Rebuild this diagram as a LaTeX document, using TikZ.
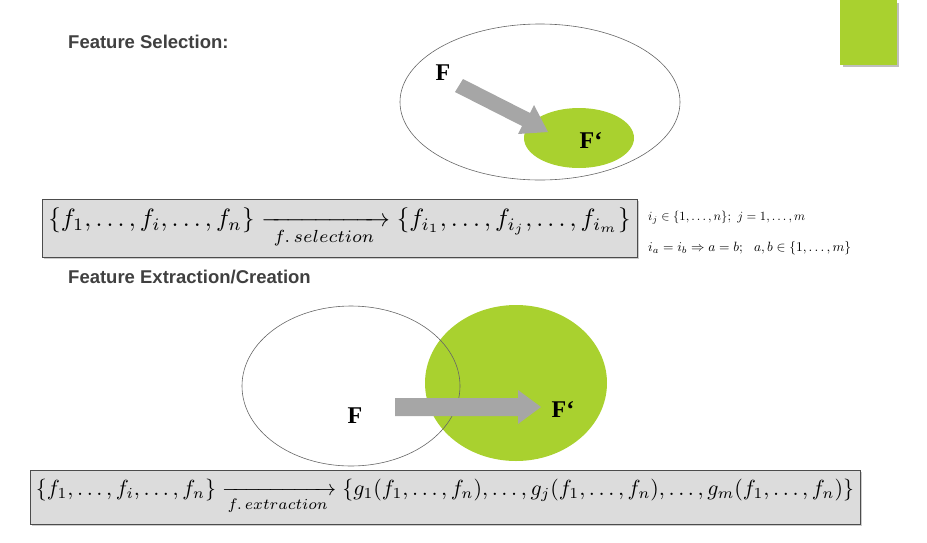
\documentclass[tikz,border=0pt]{standalone}
\usepackage{amsmath}
\usepackage{graphicx}
\usepackage{fontspec}
\newfontfamily\hdfont{Liberation Sans}
\newfontfamily\serfont{Liberation Serif}
\definecolor{lime}{HTML}{A9D12F}
\definecolor{boxgray}{HTML}{DCDCDC}
\definecolor{txtgray}{HTML}{404040}
\definecolor{arrowgray}{HTML}{A6A6A6}
\tikzset{
  heading/.style={anchor=west,font=\hdfont\fontsize{18.5}{20}\selectfont\bfseries,text=txtgray,inner sep=0},
  setlabel/.style={font=\serfont\fontsize{24}{26}\selectfont\bfseries,inner sep=0},
  formbox/.style={draw=black!70,fill=boxgray,line width=0.8pt,inner sep=0,
     drop shadow={shadow xshift=2pt,shadow yshift=-2pt,fill=black!40}},
  thin ell/.style={draw=black!60,line width=0.6pt},
  side/.style={anchor=west,inner sep=0}
}
\usetikzlibrary{shadows}
\begin{document}
\begin{tikzpicture}[x=1pt,y=-1pt]
\useasboundingbox (0,0) rectangle (927,542);
\fill[black!25] (843,3) rectangle (899,67);
\fill[lime] (840,0) rectangle (897,65);
\node[heading] (h1) at (68,42) {Feature Selection:};
\draw[thin ell] (540,102) ellipse [x radius=140,y radius=78];
\fill[lime] (579,138) ellipse [x radius=55,y radius=30];
\node[setlabel] (F1) at (443,73) {F};
\node[setlabel] (G1) at (591,141) {F‘};
\fill[arrowgray] (463,79) -- (530,113) -- (534,105) -- (548,132) -- (518,134) -- (522,126) -- (455,92) -- cycle;
\node[formbox,minimum width=595,minimum height=58] (b1) at (339.5,228) {};
\node (m1) at (339.5,228) {\resizebox{582pt}{!}{$\{f_1,\dots,f_i,\dots,f_n\}\xrightarrow[f.\,selection]{\hspace{4.5em}}\{f_{i_1},\dots,f_{i_j},\dots,f_{i_m}\}$}};
\node[side] (s1) at (648,218) {\resizebox{157pt}{!}{$i_j\in\{1,\dots,n\};\ j=1,\dots,m$}};
\node[side] (s2) at (648,248) {\resizebox{203pt}{!}{$i_a=i_b\Rightarrow a=b;\ \ a,b\in\{1,\dots,m\}$}};
\node[heading] (h2) at (68,277) {Feature Extraction/Creation};
\fill[lime] (516,383) ellipse [x radius=91,y radius=78];
\draw[thin ell] (351,386) ellipse [x radius=109,y radius=80];
\fill[arrowgray] (395,398) -- (518,398) -- (518,390) -- (541,407) -- (518,424) -- (518,416) -- (395,416) -- cycle;
\node[setlabel] (F2) at (355,416) {F};
\node[setlabel] (G2) at (563,410) {F‘};
\node[formbox,minimum width=830,minimum height=54] (b2) at (445,497) {};
\node (m2) at (445,497) {\resizebox{818pt}{!}{$\{f_1,\dots,f_i,\dots,f_n\}\xrightarrow[f.\,extraction]{\hspace{4.5em}}\{g_1(f_1,\dots,f_n),\dots,g_j(f_1,\dots,f_n),\dots,g_m(f_1,\dots,f_n)\}$}};
\end{tikzpicture}
\end{document}
